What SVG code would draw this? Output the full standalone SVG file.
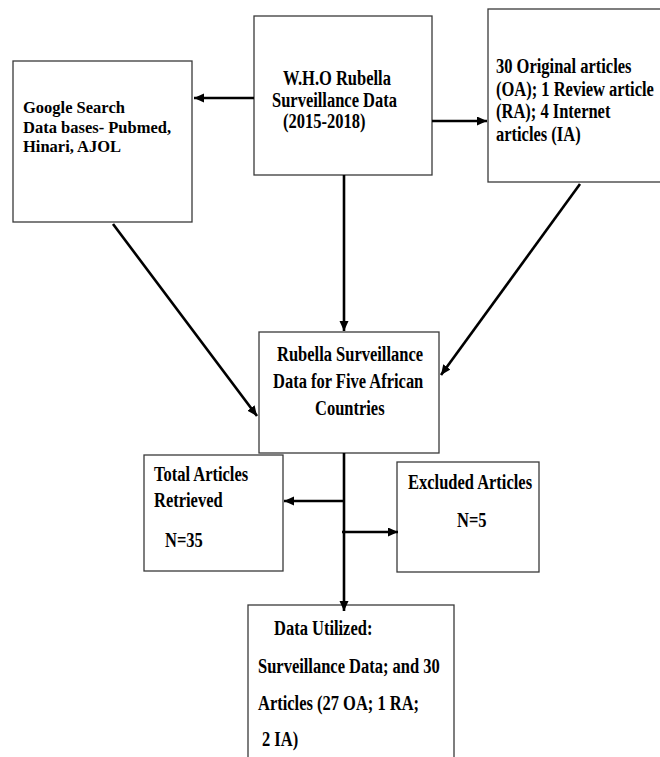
<svg xmlns="http://www.w3.org/2000/svg" width="660" height="757" viewBox="0 0 660 757">
<style>
  .box { fill: #ffffff; stroke: #3a3a3a; stroke-width: 1.3; }
  .t { font-family: "Liberation Serif", "Times New Roman", serif; font-weight: bold; font-size: 16.5px; fill: #000000; }
  .c { fill: none; stroke: #000000; stroke-width: 2.6; }
</style>
<defs>
  <marker id="ah" markerUnits="userSpaceOnUse" markerWidth="11" markerHeight="10" refX="10" refY="4.5" orient="auto">
    <path d="M0,0 L10,4.5 L0,9 z" fill="#000000"/>
  </marker>
</defs>
<rect width="660" height="757" fill="#ffffff"/>

<g id="google">
  <rect class="box" x="13" y="61" width="179" height="161"/>
  <text class="t" transform="translate(23 113)">Google Search</text>
  <text class="t" transform="translate(23 132.5)">Data bases- Pubmed,</text>
  <text class="t" transform="translate(23 152)">Hinari, AJOL</text>
</g>

<g id="who">
  <rect class="box" x="254" y="16" width="178" height="159"/>
  <text class="t" transform="translate(283 85) scale(1 1.25)">W.H.O Rubella</text>
  <text class="t" transform="translate(272 107) scale(1 1.25)">Surveillance Data</text>
  <text class="t" transform="translate(283 128) scale(1 1.25)">(2015-2018)</text>
</g>

<g id="articles">
  <rect class="box" x="488" y="9" width="180" height="173"/>
  <text class="t" transform="translate(496 73) scale(1 1.25)">30 Original articles</text>
  <text class="t" transform="translate(496 96) scale(1 1.25)">(OA); 1 Review article</text>
  <text class="t" transform="translate(496 118) scale(1 1.25)">(RA); 4 Internet</text>
  <text class="t" transform="translate(496 141) scale(1 1.25)">articles (IA)</text>
</g>

<g id="rubella">
  <rect class="box" x="259" y="332" width="180" height="121"/>
  <text class="t" transform="translate(277 361) scale(1 1.25)">Rubella Surveillance</text>
  <text class="t" transform="translate(273 388) scale(1 1.25)">Data for Five African</text>
  <text class="t" transform="translate(315 415) scale(1 1.25)">Countries</text>
</g>

<g id="total">
  <rect class="box" x="144" y="455" width="139" height="116"/>
  <text class="t" transform="translate(154 481) scale(1 1.25)">Total Articles</text>
  <text class="t" transform="translate(154 507) scale(1 1.25)">Retrieved</text>
  <text class="t" transform="translate(165 547) scale(1 1.25)">N=35</text>
</g>

<g id="excluded">
  <rect class="box" x="397" y="462" width="142" height="110"/>
  <text class="t" transform="translate(408 489) scale(1 1.25)">Excluded Articles</text>
  <text class="t" transform="translate(457 527) scale(1 1.25)">N=5</text>
</g>

<g id="utilized">
  <rect class="box" x="248" y="605" width="206" height="170"/>
  <text class="t" transform="translate(274 635) scale(1 1.25)">Data Utilized:</text>
  <text class="t" transform="translate(258 673) scale(1 1.25)">Surveillance Data; and 30</text>
  <text class="t" transform="translate(258 710) scale(1 1.25)">Articles (27 OA; 1 RA;</text>
  <text class="t" transform="translate(262 746) scale(1 1.25)">2 IA)</text>
</g>

<g id="connectors">
  <line class="c" x1="254" y1="98" x2="194" y2="98" marker-end="url(#ah)"/>
  <line class="c" x1="432" y1="121" x2="487" y2="121" marker-end="url(#ah)"/>
  <line class="c" x1="344" y1="175" x2="344" y2="331" marker-end="url(#ah)"/>
  <line class="c" x1="113" y1="224" x2="257" y2="416" marker-end="url(#ah)"/>
  <line class="c" x1="580" y1="184" x2="441" y2="375" marker-end="url(#ah)"/>
  <line class="c" x1="344" y1="453" x2="344" y2="611" marker-end="url(#ah)"/>
  <line class="c" x1="344" y1="501" x2="284" y2="501" marker-end="url(#ah)"/>
  <line class="c" x1="342" y1="532" x2="398" y2="532" marker-end="url(#ah)"/>
</g>
</svg>
